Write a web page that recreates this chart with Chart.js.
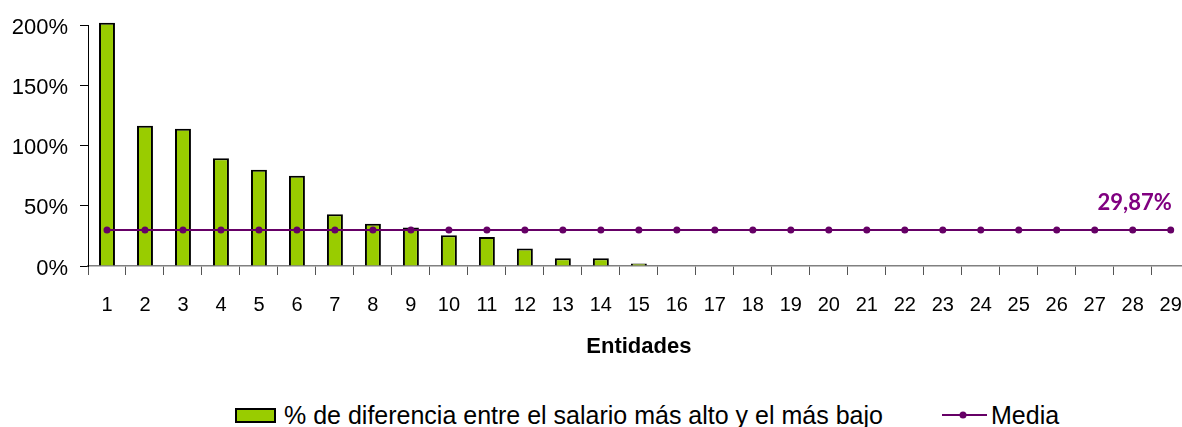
<!DOCTYPE html>
<html>
<head>
<meta charset="utf-8">
<script src="https://cdn.jsdelivr.net/npm/chart.js@4/dist/chart.umd.min.js"></script>
<style>
  html, body { margin: 0; padding: 0; background: #fff; overflow: hidden; }
  .wrap { position: relative; width: 1182px; height: 427px; overflow: hidden; }
  #chartBox { position: absolute; left: 0; top: 0; width: 1200px; height: 366px; }
  .legend { position: absolute; top: 400px; height: 30px; display: flex; align-items: center;
    font-family: "Liberation Sans Narrow", "Liberation Sans", Arial, sans-serif; font-size: 25px; color: #000; }
  .swatch { width: 37px; height: 11px; border: 2px solid #000; background: #99cc00; margin-right: 8px; }
  .lineSwatch { margin-right: 4px; }
</style>
</head>
<body>
<div class="wrap">
  <div id="chartBox"><canvas id="salarioChart"></canvas></div>
  <div class="legend" id="legBar" style="left:235px"></div>
  <div class="legend" id="legMedia" style="left:942px"></div>
</div>
<script>
const categorias = ['1','2','3','4','5','6','7','8','9','10','11','12','13','14','15',
  '16','17','18','19','20','21','22','23','24','25','26','27','28','29'];
const diferencia = [202, 116.5, 114, 89.5, 80, 75, 43, 35, 32, 25.5, 24, 14.5, 6.5, 6.5, 2,
  0, 0, 0, 0, 0, 0, 0, 0, 0, 0, 0, 0, 0, 0];
const mediaValor = 29.87;
const media = categorias.map(() => mediaValor);
const yTicks = [0, 50, 100, 150, 200];

const nombreBarras = '% de diferencia entre el salario más alto y el más bajo';
const nombreMedia = 'Media';
const verde = '#99cc00';
const morado = '#660066';

// etiqueta del valor medio sobre el último punto
const etiquetaMedia = {
  id: 'etiquetaMedia',
  afterDatasetsDraw(chart) {
    const x = chart.scales.x.getPixelForValue(categorias.length - 1);
    const y = chart.scales.y.getPixelForValue(mediaValor);
    const ctx = chart.ctx;
    ctx.save();
    ctx.font = 'bold 22px Lato, "Open Sans", sans-serif';
    ctx.fillStyle = '#800080';
    ctx.textAlign = 'right';
    ctx.textBaseline = 'middle';
    ctx.fillText(mediaValor.toFixed(2).replace('.', ',') + '%', x + 1, y - 27);
    ctx.restore();
  }
};

new Chart(document.getElementById('salarioChart'), {
  data: {
    labels: categorias,
    datasets: [
      {
        type: 'line',
        label: nombreMedia,
        data: media,
        borderColor: morado,
        backgroundColor: morado,
        borderWidth: 2,
        pointRadius: 3.5,
        pointBackgroundColor: morado,
        pointBorderWidth: 0,
        order: 0
      },
      {
        type: 'bar',
        label: nombreBarras,
        data: diferencia,
        backgroundColor: verde,
        borderColor: '#000',
        borderWidth: 2,
        barPercentage: 0.42,
        categoryPercentage: 1,
        clip: false,
        order: 1
      }
    ]
  },
  options: {
    responsive: true,
    maintainAspectRatio: false,
    animation: false,
    layout: { padding: { top: 24, right: 10, left: 0, bottom: 0 } },
    plugins: {
      legend: { display: false },
      tooltip: { enabled: false }
    },
    scales: {
      x: {
        afterFit: (s) => { s.height = 100; },
        grid: { drawOnChartArea: false, drawTicks: true, tickLength: 9, color: '#555' },
        border: { color: '#808080', width: 1.5 },
        ticks: { color: '#000', padding: 18, font: { family: '"Liberation Sans", Arial', size: 20 } },
        title: {
          display: true,
          text: 'Entidades',
          color: '#000',
          font: { family: '"Liberation Sans", Arial', size: 22, weight: 'bold' },
          padding: { top: 0, bottom: 6 }
        }
      },
      y: {
        min: 0,
        max: 200,
        afterFit: (s) => { s.width = 88; },
        afterBuildTicks: (s) => { s.ticks = yTicks.map(v => ({ value: v })); },
        grid: { drawOnChartArea: false, drawTicks: true, tickLength: 8, color: '#000' },
        border: { color: '#000', width: 1 },
        ticks: {
          color: '#000',
          padding: 12,
          labelOffset: 2.5,
          font: { family: '"Liberation Sans", Arial', size: 22 },
          callback: (v) => v + '%'
        }
      }
    }
  },
  plugins: [etiquetaMedia]
});

// leyenda en HTML
document.getElementById('legBar').innerHTML =
  '<div class="swatch"></div><span>' + nombreBarras + '</span>';
document.getElementById('legMedia').innerHTML =
  '<svg class="lineSwatch" width="45" height="10"><line x1="0" y1="5" x2="45" y2="5" stroke="' + morado +
  '" stroke-width="2"/><circle cx="21" cy="5" r="3.5" fill="' + morado + '"/></svg><span>' + nombreMedia + '</span>';
</script>
</body>
</html>
